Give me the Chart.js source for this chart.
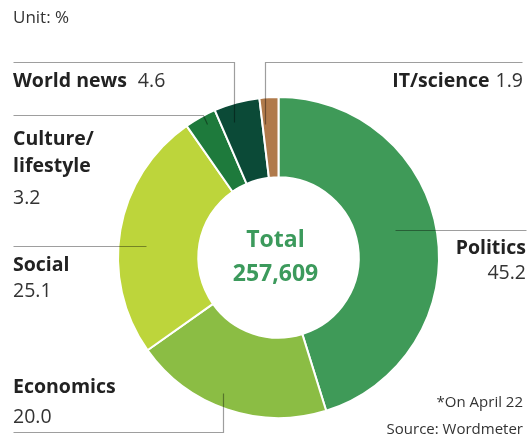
<!DOCTYPE html>
<html><head><meta charset="utf-8">
<script src="https://cdn.jsdelivr.net/npm/chart.js@4/dist/chart.umd.min.js"></script>
<style>html,body{margin:0;padding:0;background:#fff}#wrap{width:531px;height:445px;position:relative}</style>
</head><body><div id="wrap"><canvas id="c" width="531" height="445"></canvas></div>
<script>
const categories = ["Politics", "Economics", "Social", "Culture/lifestyle", "World news", "IT/science"];
const shares = [45.2, 20.0, 25.1, 3.2, 4.6, 1.9];
const colors = ["#3f9a58", "#8bbd44", "#bdd53b", "#1e7a3c", "#0b4a37", "#b07a4b"];
const totalLabel = "257,609";

const FONT = "'Open Sans', 'Noto Sans', sans-serif";
const LSIZE = 19.5;
const lineColor = "rgba(0,0,0,0.38)";

const labelPlugin = {
  id: 'labels',
  afterDraw(chart) {
    const ctx = chart.ctx;
    const meta = chart.getDatasetMeta(0);
    const cx = meta.data[0].x, cy = meta.data[0].y;
    ctx.save();
    ctx.strokeStyle = lineColor; ctx.lineWidth = 1.2;
    const seg = (pts) => { ctx.beginPath(); ctx.moveTo(pts[0][0]+0.5, pts[0][1]+0.5); for (let i=1;i<pts.length;i++) ctx.lineTo(pts[i][0]+0.5, pts[i][1]+0.5); ctx.stroke(); };
    seg([[13,62],[234,62],[234,122]]);        // World news
    seg([[265,124],[265,62],[522,62]]);       // IT/science
    seg([[13,115],[203,115],[207,124]]);      // Culture
    seg([[395,230],[526,230]]);               // Politics
    seg([[13,246],[146,246]]);                // Social
    seg([[13,432],[223,432],[223,393]]);      // Economics

    const val = (i) => shares[i].toFixed(1);
    const B = `bold ${LSIZE}px ${FONT}`, R = `${LSIZE}px ${FONT}`;
    ctx.textBaseline = 'middle';
    // World news
    ctx.fillStyle = '#222'; ctx.font = B; ctx.textAlign = 'left';
    ctx.fillText('World news', 13, 81);
    let w = ctx.measureText('World news').width;
    ctx.font = R; ctx.fillStyle = '#333';
    ctx.fillText(val(4), 13 + w + 11, 81);
    // IT/science right aligned
    ctx.textAlign = 'right'; ctx.font = R;
    const v5 = val(5);
    ctx.fillText(v5, 523, 81);
    const w5 = ctx.measureText(v5).width;
    ctx.font = B; ctx.fillStyle = '#222';
    ctx.fillText('IT/science', 523 - w5 - 6, 81);
    // Culture
    ctx.textAlign = 'left';
    ctx.fillText('Culture/', 13, 139);
    ctx.fillText('lifestyle', 13, 166);
    ctx.font = R; ctx.fillStyle = '#333';
    ctx.fillText(val(3), 13, 198);
    // Social
    ctx.font = B; ctx.fillStyle = '#222';
    ctx.fillText('Social', 13, 265);
    ctx.font = R; ctx.fillStyle = '#333';
    ctx.fillText(val(2), 13, 291);
    // Economics
    ctx.font = B; ctx.fillStyle = '#222';
    ctx.fillText('Economics', 13, 387);
    ctx.font = R; ctx.fillStyle = '#333';
    ctx.fillText(val(1), 13, 417);
    // Politics
    ctx.textAlign = 'right';
    ctx.font = B; ctx.fillStyle = '#222';
    ctx.fillText('Politics', 526, 248);
    ctx.font = R; ctx.fillStyle = '#333';
    ctx.fillText(val(0), 526, 273);
    // notes
    ctx.font = `15px ${FONT}`; ctx.fillStyle = '#333';
    ctx.fillText('*On April 22', 523, 403);
    ctx.fillText('Source: Wordmeter', 523, 430);
    ctx.textAlign = 'left';
    ctx.font = `17px ${FONT}`;
    ctx.fillText('Unit: %', 13, 18);
    // center
    ctx.textAlign = 'center';
    ctx.fillStyle = '#3c9a5c';
    ctx.font = `bold 23px ${FONT}`;
    ctx.fillText('Total', cx - 3, cy - 17);
    ctx.fillText(totalLabel, cx - 3, cy + 17);
    ctx.restore();
  }
};

new Chart(document.getElementById('c'), {
  type: 'doughnut',
  data: {
    labels: categories,
    datasets: [{ data: shares, backgroundColor: colors, borderColor: '#fff', borderWidth: 2, hoverOffset: 0 }]
  },
  options: {
    responsive: false,
    animation: false,
    cutout: '50%',
    layout: { padding: { left: 117, right: 91, top: 96, bottom: 26 } },
    plugins: { legend: { display: false }, tooltip: { enabled: false } }
  },
  plugins: [labelPlugin]
});
</script>
</body></html>
